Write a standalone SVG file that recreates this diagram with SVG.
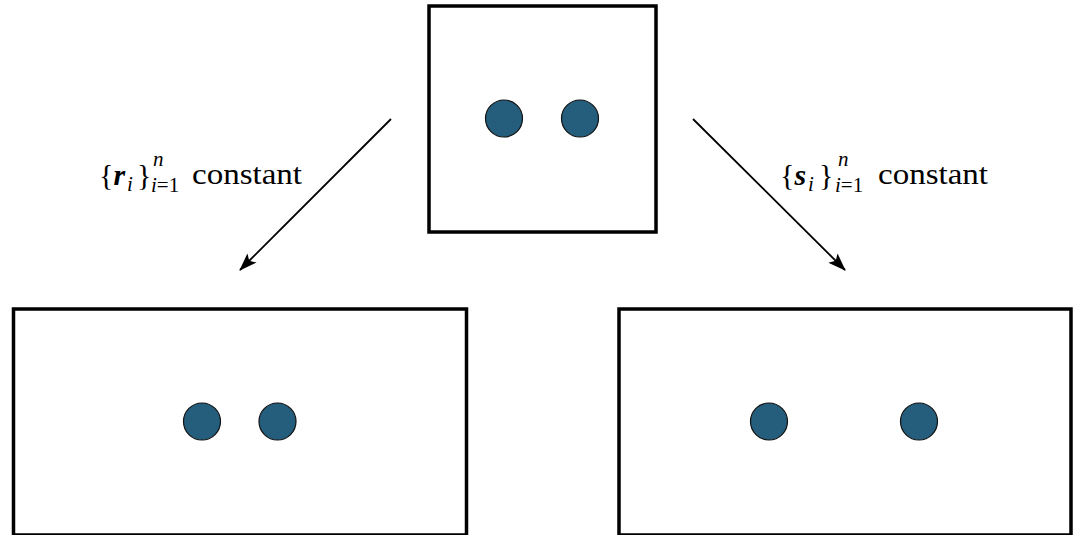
<svg xmlns="http://www.w3.org/2000/svg" width="1077" height="535" viewBox="0 0 1077 535">
<style>
.box{fill:#fff;stroke:#000;stroke-width:3.5}
.dot{fill:#245e7c;stroke:#111;stroke-width:1.2}
.lbl{font-family:"Liberation Serif","DejaVu Serif",serif;font-size:30px;fill:#000}
.sm{font-family:"Liberation Serif","DejaVu Serif",serif;font-size:21px;font-style:italic;fill:#000}
.conn{stroke:#000;stroke-width:1.8;fill:none}
</style>
<defs>
<marker id="ah" markerWidth="18" markerHeight="13" refX="17" refY="6.5" orient="auto" markerUnits="userSpaceOnUse">
<path d="M0,0 L18,6.5 L0,13 L4,6.5 Z" fill="#000"/>
</marker>
</defs>
<rect width="1077" height="535" fill="#fff"/>
<g id="top">
<rect class="box" x="429" y="6" width="227" height="226"/>
<circle class="dot" cx="504" cy="118.5" r="18.5"/>
<circle class="dot" cx="580" cy="118.5" r="18.5"/>
</g>
<g id="left">
<rect class="box" x="13.5" y="309" width="453" height="226"/>
<circle class="dot" cx="202" cy="421.5" r="18.5"/>
<circle class="dot" cx="277.5" cy="421.5" r="18.5"/>
</g>
<g id="right">
<rect class="box" x="619" y="309" width="452" height="226"/>
<circle class="dot" cx="769" cy="421.5" r="18.5"/>
<circle class="dot" cx="919" cy="421.5" r="18.5"/>
</g>
<g id="connectors">
<line class="conn" x1="391" y1="119" x2="240" y2="270" marker-end="url(#ah)"/>
<line class="conn" x1="693" y1="119" x2="845" y2="270" marker-end="url(#ah)"/>
</g>
<g id="labels">
<text class="lbl" x="99" y="185">{<tspan font-weight="bold" font-style="italic">r</tspan></text>
<text class="sm" x="127" y="191">i</text>
<text class="lbl" x="137" y="185">}</text>
<text class="sm" x="153" y="166">n</text>
<text class="sm" x="151" y="192">i<tspan font-style="normal">=1</tspan></text>
<text class="lbl" x="192" y="184" textLength="110" lengthAdjust="spacingAndGlyphs">constant</text>

<text class="lbl" x="780" y="185">{<tspan font-weight="bold" font-style="italic">s</tspan></text>
<text class="sm" x="808" y="191">i</text>
<text class="lbl" x="819" y="185">}</text>
<text class="sm" x="838" y="166">n</text>
<text class="sm" x="835" y="192">i<tspan font-style="normal">=1</tspan></text>
<text class="lbl" x="878" y="184" textLength="110" lengthAdjust="spacingAndGlyphs">constant</text>
</g>
</svg>
